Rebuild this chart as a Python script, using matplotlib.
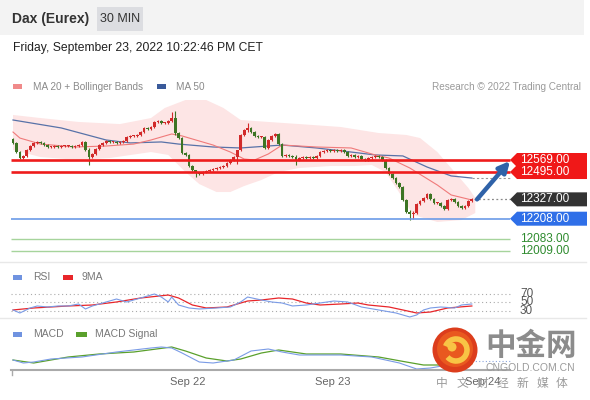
import matplotlib
matplotlib.use('Agg')
import matplotlib.pyplot as plt
from matplotlib.patches import Rectangle, Polygon, Circle, Arc

plt.rcParams['font.family'] = ['Liberation Sans', 'DejaVu Sans']

# ---------------- data ----------------
first_open = 12698
closes = [12674, 12618, 12581, 12594, 12631, 12655, 12674, 12680, 12674, 12661,
          12649, 12649, 12655, 12649, 12655, 12655, 12655, 12649, 12655, 12661,
          12680, 12631, 12587, 12606, 12637, 12661, 12674, 12686, 12680, 12680,
          12674, 12680, 12686, 12710, 12717, 12717, 12723, 12741, 12766, 12760,
          12772, 12803, 12809, 12797, 12797, 12809, 12827, 12735, 12704, 12612,
          12600, 12532, 12508, 12489, 12483, 12495, 12501, 12508, 12514, 12520,
          12526, 12532, 12551, 12569, 12587, 12631, 12723, 12754, 12766, 12741,
          12717, 12710, 12710, 12643, 12692, 12717, 12729, 12667, 12594, 12600,
          12594, 12587, 12569, 12581, 12587, 12581, 12587, 12581, 12594, 12618,
          12624, 12631, 12624, 12631, 12624, 12631, 12618, 12594, 12600, 12587,
          12594, 12575, 12569, 12581, 12587, 12594, 12587, 12569, 12520, 12483,
          12458, 12428, 12403, 12323, 12249, 12237, 12243, 12298, 12317, 12335,
          12360, 12329, 12305, 12305, 12286, 12268, 12323, 12329, 12311, 12286,
          12274, 12286, 12317, 12327]
# long wicks (index: (high, low))
wicks = {22: (12640, 12538), 46: (12864, 12800), 47: (12870, 12720),
         53: (12510, 12464), 65: (12600, 12545), 68: (12797, 12740),
         82: (12600, 12538), 115: (12260, 12200), 116: (12255, 12204)}

ma50_idx = [0, 14, 27, 34, 43, 48, 58, 66, 78, 88, 98, 105, 113, 120, 127, 133]
ma50_val = [12815, 12766, 12692, 12674, 12680, 12667, 12649, 12643, 12661, 12643,
            12618, 12600, 12594, 12526, 12471, 12458]

ma20_idx = [0, 2, 8, 18, 27, 35, 40, 46, 49, 53, 58, 63, 67, 70, 74, 78, 88, 98,
            105, 109, 115, 123, 127, 133]
ma20_val = [12741, 12704, 12667, 12649, 12655, 12667, 12692, 12729, 12717, 12692,
            12661, 12618, 12575, 12569, 12606, 12661, 12649, 12643, 12600, 12581,
            12520, 12415, 12354, 12323]

bb_up_idx = [0, 8, 19, 31, 40, 44, 50, 56, 61, 66, 74, 83, 95, 106, 114, 118,
             123, 128, 132, 134]
bb_up_val = [12846, 12827, 12803, 12790, 12827, 12889, 12938, 12938, 12889, 12815,
             12803, 12790, 12772, 12735, 12723, 12704, 12618, 12495, 12397, 12335]
bb_lo_idx = [0, 8, 19, 28, 40, 45, 50, 54, 59, 63, 67, 72, 77, 83, 92, 99, 104,
             108, 113, 116, 123, 130, 134]
bb_lo_val = [12631, 12587, 12569, 12581, 12618, 12600, 12495, 12421, 12372, 12372,
             12409, 12446, 12495, 12520, 12532, 12532, 12538, 12495, 12335, 12231,
             12188, 12200, 12243]

resistance = [12569, 12495]
pivot = 12327
support = [12208, 12083, 12009]

rsi_idx = [0, 2, 5, 7, 10, 13, 16, 19, 21, 23, 27, 30, 33, 37, 39, 41, 43, 45, 46,
           48, 51, 54, 59, 63, 66, 68, 72, 75, 78, 81, 85, 89, 93, 97, 101, 106,
           111, 115, 117, 119, 121, 124, 128, 130, 133]
rsi_val = [32.4, 25.3, 37.1, 41.8, 39.4, 41.8, 41.8, 46.5, 34.7, 41.8, 51.2, 58.2,
           51.2, 60.6, 65.3, 70.0, 62.9, 51.2, 62.9, 44.1, 37.1, 34.7, 37.1, 39.4,
           51.2, 62.9, 55.9, 51.2, 48.8, 41.8, 44.1, 48.8, 53.5, 51.2, 39.4, 32.4,
           25.3, 15.9, 20.6, 32.4, 37.1, 39.4, 37.1, 44.1, 46.5]
rsi_ma_idx = [0, 6, 16, 23, 30, 37, 45, 48, 52, 56, 62, 68, 72, 77, 81, 85, 89,
              95, 100, 103, 109, 113, 117, 121, 126, 133]
rsi_ma_val = [32.4, 37.1, 41.8, 44.1, 51.2, 60.6, 67.6, 60.6, 44.1, 37.1, 39.4,
              53.5, 55.9, 60.6, 58.2, 48.8, 44.1, 46.5, 48.8, 44.1, 39.4, 32.4,
              25.3, 27.6, 37.1, 41.8]
rsi_levels = [70, 50, 30]

macd_idx = [0, 3, 6, 11, 20, 30, 40, 43, 46, 49, 54, 58, 64, 69, 74, 78, 83, 95,
            104, 112, 117, 121, 126, 133]
macd_val = [-12.5, -20, -17.5, -10, -5, 7.5, 17.5, 20, 17.5, 5, -17.5, -20, -12.5,
            10, 15, 7.5, 0, 0, -5, -20, -35, -32.5, -25, -15]
sig_idx = [0, 6, 16, 25, 35, 46, 50, 56, 62, 66, 72, 77, 85, 95, 106, 114, 119,
           126, 133]
sig_val = [-12.5, -20, -5, 2.5, 7.5, 20, 10, -7.5, -15, -10, 5, 12.5, 2.5, 2.5,
           -5, -17.5, -25, -25, -22]

day_idx = [50.7, 92.75, 136.2]
day_labels = ['Sep 22', 'Sep 23', 'Sep 24']

# ---------------- layout helpers ----------------
W, H = 590, 400
fig = plt.figure(figsize=(W / 100, H / 100), dpi=100)

X0, DX = 13, 3.45      # px of first candle, px per candle
PPX = 6.15             # price units per px (main panel)
REF_Y = 160            # px row of the first resistance level


def rect(x1, y1, x2, y2):
    return [x1 / W, 1 - y2 / H, (x2 - x1) / W, (y2 - y1) / H]


def px_to_idx(px):
    return (px - X0) / DX


xlim = (px_to_idx(11), px_to_idx(588))
x_end = px_to_idx(510)

# background overlay
bg = fig.add_axes([0, 0, 1, 1], zorder=0)
bg.set_xlim(0, W)
bg.set_ylim(H, 0)
bg.axis('off')
bg.add_patch(Rectangle((0, 0), 584, 35, color='#f3f3f3', lw=0))
bg.add_patch(Rectangle((97, 7), 46, 24, color='#dcdde1', lw=0))
bg.text(12, 19, 'Dax (Eurex)', fontsize=10, fontweight='bold', color='#333333', va='center')
bg.text(120.5, 19.5, '30 MIN', fontsize=9, color='#333333', va='center', ha='center')
bg.text(13, 48, 'Friday, September 23, 2022 10:22:46 PM CET', fontsize=8.7, color='#222222', va='center')
for y in (262, 318):
    bg.plot([0, 586], [y, y], color='#e8e8e8', lw=1)

# legends
bg.add_patch(Rectangle((13, 84), 9, 5, color='#f08a8a', lw=0))
bg.text(33, 86.5, 'MA 20 + Bollinger Bands', fontsize=7.2, color='#8a8a8a', va='center')
bg.add_patch(Rectangle((157, 84), 9, 5, color='#3a5a9a', lw=0))
bg.text(176, 86.5, 'MA 50', fontsize=7.2, color='#8a8a8a', va='center')
bg.text(581, 86.5, 'Research \u00a9 2022 Trading Central', fontsize=7.2, color='#9a9a9a',
        va='center', ha='right')

bg.add_patch(Rectangle((13, 275), 9, 5, color='#7093e0', lw=0))
bg.text(33, 277.5, 'RSI', fontsize=7.5, color='#777777', va='center')
bg.add_patch(Rectangle((63, 275), 10, 5, color='#e8262a', lw=0))
bg.text(82, 277.5, '9MA', fontsize=7.5, color='#777777', va='center')
bg.add_patch(Rectangle((13, 332), 9, 5, color='#7093e0', lw=0))
bg.text(33, 334, 'MACD', fontsize=7.5, color='#777777', va='center')
bg.add_patch(Rectangle((76, 332), 11, 5, color='#5aa02c', lw=0))
bg.text(95, 334, 'MACD Signal', fontsize=7.5, color='#777777', va='center')

# ---------------- main panel ----------------
ax = fig.add_axes(rect(11, 95, 588, 258), zorder=1)
ax.set_facecolor('none')
ax.set_xlim(*xlim)
ax.set_ylim(resistance[0] - (258 - REF_Y) * PPX, resistance[0] + (REF_Y - 95) * PPX)
ax.axis('off')

band = list(zip(bb_up_idx, bb_up_val)) + list(zip(bb_lo_idx, bb_lo_val))[::-1]
ax.add_patch(Polygon(band, closed=True, facecolor='#fde5e5', edgecolor='none', zorder=1))
ax.plot(ma50_idx, ma50_val, color='#5872a8', lw=0.9, zorder=2)
ax.plot(ma20_idx, ma20_val, color='#f07a7a', lw=0.8, zorder=2)
ax.plot([ma50_idx[-1], x_end], [ma50_val[-1]] * 2, color='#999999', lw=0.8,
        ls=(0, (2, 2)), zorder=2)

opens = [first_open] + closes[:-1]
for i, (o, c) in enumerate(zip(opens, closes)):
    col = '#d22a2a' if c >= o else '#3d7524'
    hi, lo = wicks.get(i, (max(o, c) + PPX, min(o, c) - PPX))
    ax.vlines(i, lo, hi, color=col, lw=0.8, zorder=3)
    ax.bar(i, max(abs(c - o), PPX * 0.9), bottom=min(o, c), width=0.8,
           color=col, lw=0, zorder=4)

# levels
for lv in resistance:
    ax.hlines(lv, xlim[0], x_end, color='#ee1c1c', lw=1.9, zorder=5)
ax.hlines(support[0], xlim[0], x_end, color='#6b9be8', lw=1.2, zorder=5)
for lv in support[1:]:
    ax.hlines(lv, xlim[0], x_end, color='#a6d49c', lw=1, zorder=5)
ax.plot([len(closes) - 0.5, x_end], [pivot, pivot], color='#888888', lw=0.9,
        ls=(0, (1.5, 2)), zorder=5)

tip, body, right = x_end, px_to_idx(517), px_to_idx(587)
hh = 7 * PPX


def tag(price, color):
    pts = [(tip, price), (body, price + hh), (right, price + hh),
           (right, price - hh), (body, price - hh)]
    ax.add_patch(Polygon(pts, closed=True, facecolor=color, edgecolor='none',
                         zorder=6, clip_on=False))
    ax.text(px_to_idx(520), price, f'{price:.2f}', color='white', fontsize=8.5,
            va='center', ha='left', zorder=7)


tag(resistance[1], '#f01818')
tag(resistance[0], '#f01818')
tag(pivot, '#333333')
tag(support[0], '#2f6fe8')
for lv in support[1:]:
    ax.text(px_to_idx(520), lv, f'{lv:.2f}', color='#2e8b2e', fontsize=8.5,
            va='center', ha='left', zorder=7)

ax.annotate('', xy=(x_end, resistance[0] - PPX), xytext=(len(closes) + 0.5, pivot),
            arrowprops=dict(arrowstyle='-|>', color='#2f62a8', lw=3.2,
                            mutation_scale=16, shrinkA=0, shrinkB=0), zorder=8)

# ---------------- RSI panel ----------------
ar = fig.add_axes(rect(11, 285, 588, 318), zorder=1)
ar.set_facecolor('none')
ar.set_xlim(*xlim)
ar.set_ylim(13.5, 91.2)
ar.axis('off')
for lv in rsi_levels:
    ar.hlines(lv, xlim[0], x_end, color='#aaaaaa', lw=0.8, ls=(0, (1, 2.5)))
    ar.text(px_to_idx(520), lv, str(lv), fontsize=8.5, color='#555555',
            va='center', ha='left')
ar.plot(rsi_ma_idx, rsi_ma_val, color='#e8262a', lw=0.9)
ar.plot(rsi_idx, rsi_val, color='#7a9be6', lw=0.8)

# ---------------- MACD panel ----------------
am = fig.add_axes(rect(11, 340, 588, 370), zorder=1)
am.set_facecolor('none')
am.set_xlim(*xlim)
am.set_ylim(-37.5, 37.5)
for s in am.spines.values():
    s.set_visible(False)
am.set_yticks([])
am.set_xticks(day_idx, day_labels)
am.tick_params(axis='x', length=0, pad=5, labelsize=8, labelcolor='#666666')
am.plot(sig_idx, sig_val, color='#5aa02c', lw=0.9)
am.plot(macd_idx, macd_val, color='#7a9be6', lw=0.8)
am.plot([macd_idx[-1], x_end], [macd_val[-1]] * 2, color='#8aa4dd', lw=0.8,
        ls=(0, (1, 2)))
am.plot([xlim[0], x_end], [-37.5, -37.5], color='#aaaaaa', lw=1.5, clip_on=False)
am.plot([xlim[0] + 0.3, xlim[0] + 0.3], [-37.5, -50], color='#aaaaaa', lw=1,
        clip_on=False)

# ---------------- watermark ----------------
top = fig.add_axes([0, 0, 1, 1], zorder=10)
top.set_xlim(0, W)
top.set_ylim(H, 0)
top.axis('off')
top.add_patch(Circle((455, 350), 22.5, color='#dc3d1c', lw=0))
top.add_patch(Circle((455, 349), 18, color='#e9581f', lw=0))
top.add_patch(Arc((456, 350), 22, 22, theta1=200, theta2=500, color='#f8c445', lw=4))
top.add_patch(Circle((452, 347), 4.5, color='#f8c445', lw=0))
top.text(485, 346, '中金网', fontsize=22, fontweight='bold', color='#8c8c8c',
         va='center', ha='left', family=['Noto Sans CJK SC', 'DejaVu Sans'])
top.text(485, 368, 'CNGOLD.COM.CN', fontsize=7.5, color='#9a9a9a', va='center', ha='left')
for k, ch in enumerate('中文财经新媒体'):
    top.text(442 + k * 20, 383, ch, fontsize=8.5, color='#9a9a9a', va='center',
             ha='center', family=['Noto Sans CJK SC', 'DejaVu Sans'])

fig.savefig('out.png', dpi=100)
